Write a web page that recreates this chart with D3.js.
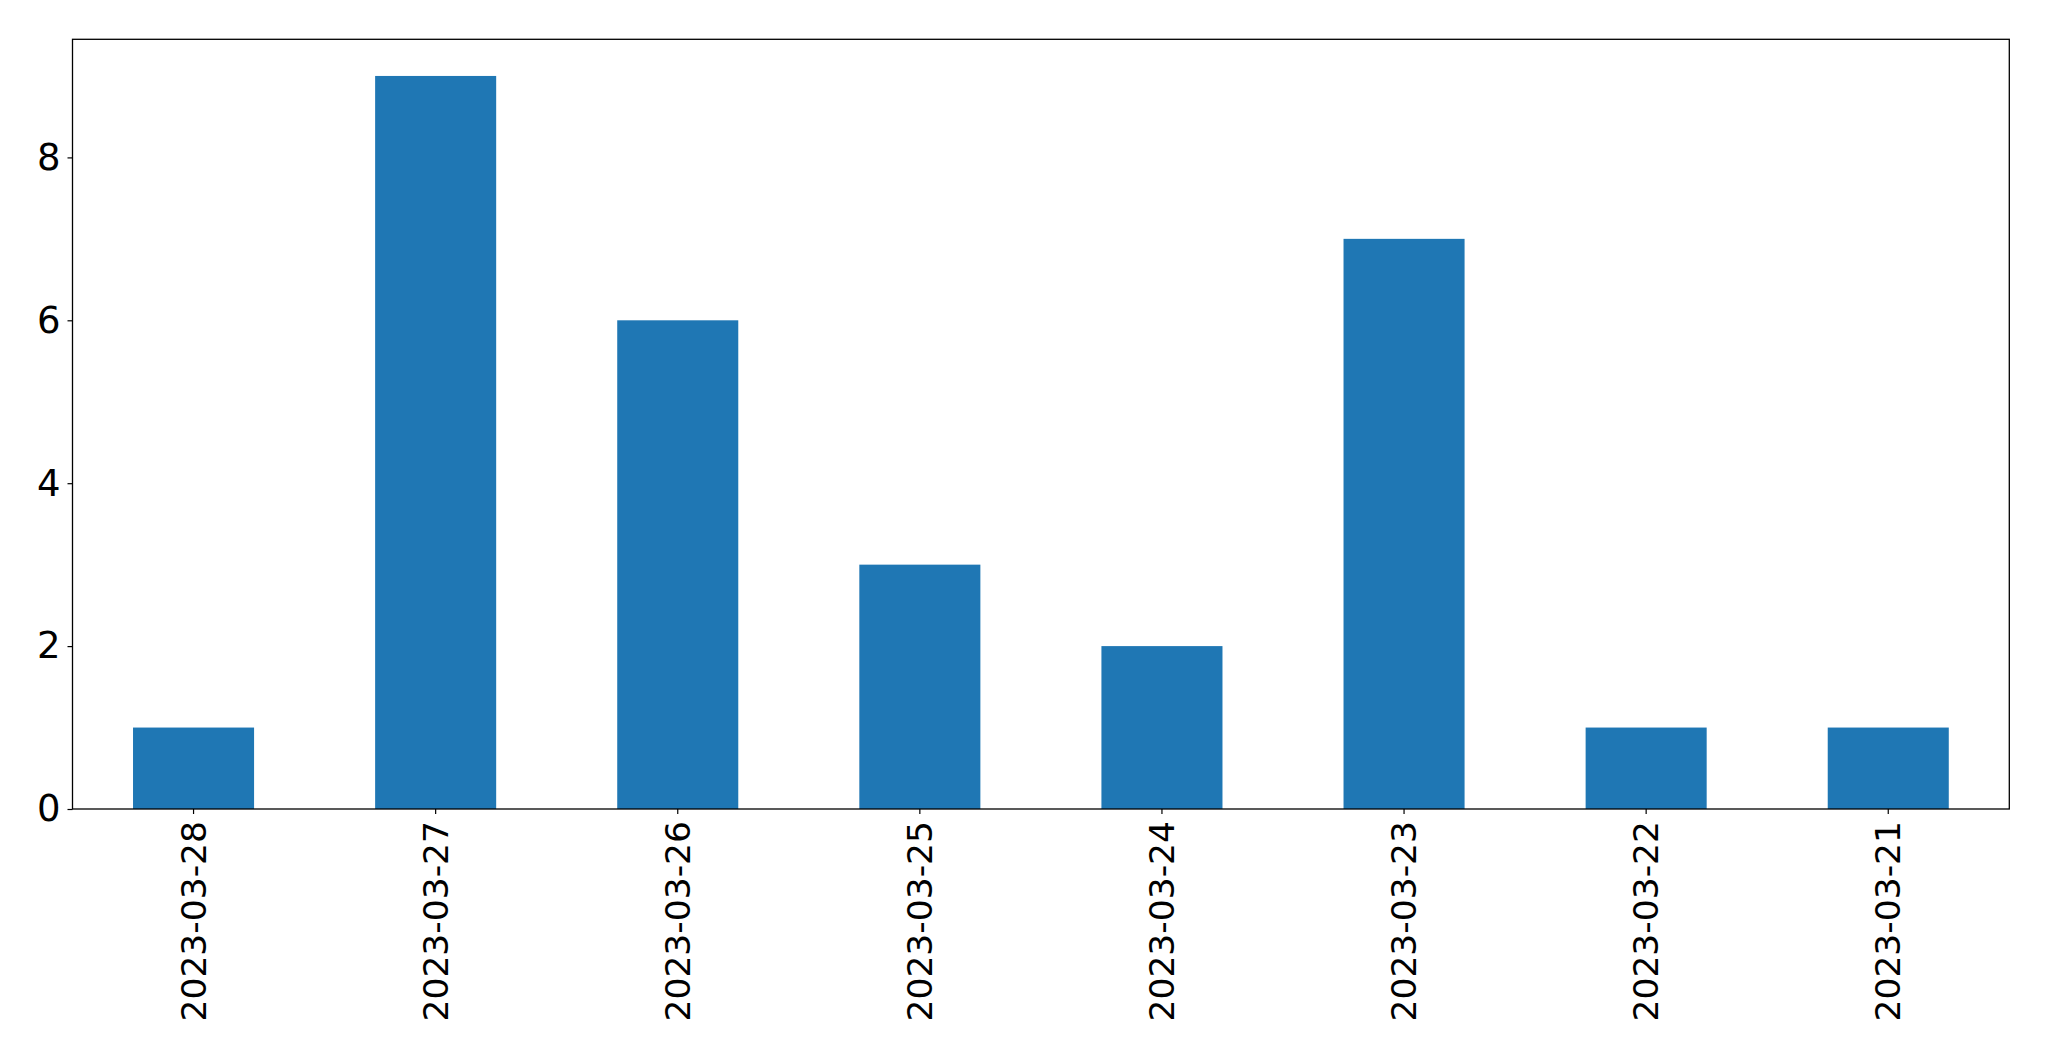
<!DOCTYPE html>
<html>
<head>
<meta charset="utf-8">
<script src="https://cdn.jsdelivr.net/npm/d3@7"></script>
<style>
  html, body { margin: 0; padding: 0; background: #fff; }
  svg { display: block; }
</style>
</head>
<body>
<svg id="chart" width="2049" height="1061"></svg>
<script>
const categories = ["2023-03-28", "2023-03-27", "2023-03-26", "2023-03-25", "2023-03-24", "2023-03-23", "2023-03-22", "2023-03-21"];
const values = [1, 9, 6, 3, 2, 7, 1, 1];
const yTicks = [0, 2, 4, 6, 8];

(function () {
const mLeft = 72.5, mRight = 2009.3, mTop = 39.3, mBottom = 809;
const yFont = 37, xFont = 34.5;
const font = "DejaVu Sans, sans-serif";

const svg = d3.select("#chart");

const x = d3.scaleBand()
  .domain(categories)
  .range([mLeft, mRight])
  .paddingInner(0.5)
  .paddingOuter(0.25);

const yMax = d3.max(values) * 1.05;
const y = d3.scaleLinear().domain([0, yMax]).range([mBottom, mTop]);

// bars
svg.append("g").selectAll("rect")
  .data(values)
  .join("rect")
  .attr("x", (d, i) => x(categories[i]))
  .attr("y", d => y(d))
  .attr("width", x.bandwidth())
  .attr("height", d => y(0) - y(d))
  .attr("fill", "#1f77b4");

// y axis
const yAxis = d3.axisLeft(y).tickValues(yTicks).tickSize(5).tickPadding(7).tickFormat(d3.format("d"));
const gy = svg.append("g").attr("transform", `translate(${mLeft},0)`).call(yAxis);
gy.select(".domain").remove();
gy.selectAll(".tick line").attr("stroke", "#000").attr("stroke-width", 1.2);
gy.selectAll(".tick text").attr("font-family", font).attr("font-size", yFont).attr("fill", "#000");

// x axis
const xAxis = d3.axisBottom(x).tickSize(5).tickPadding(0);
const gx = svg.append("g").attr("transform", `translate(0,${mBottom})`).call(xAxis);
gx.select(".domain").remove();
gx.selectAll(".tick line").attr("stroke", "#000").attr("stroke-width", 1.2);
gx.selectAll(".tick text")
  .attr("font-family", font)
  .attr("font-size", xFont)
  .attr("fill", "#000")
  .attr("text-anchor", "end")
  .attr("dy", "0.35em")
  .attr("y", 0)
  .attr("transform", "translate(0,12) rotate(-90)");

// frame
svg.append("rect")
  .attr("x", mLeft).attr("y", mTop)
  .attr("width", mRight - mLeft).attr("height", mBottom - mTop)
  .attr("fill", "none").attr("stroke", "#000").attr("stroke-width", 1.3);
})();
</script>
</body>
</html>
